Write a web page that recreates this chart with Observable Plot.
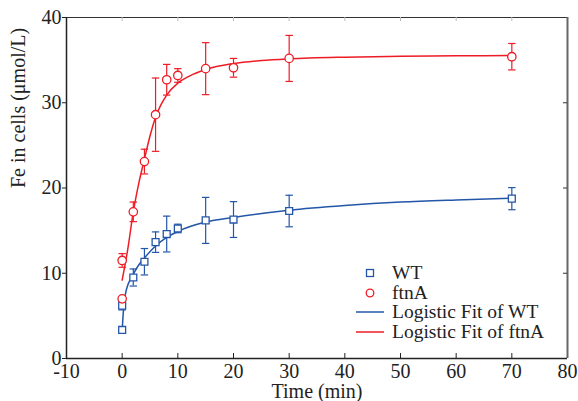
<!DOCTYPE html>
<html><head><meta charset="utf-8">
<script src="https://cdn.jsdelivr.net/npm/d3@7"></script>
<script src="https://cdn.jsdelivr.net/npm/@observablehq/plot@0.6"></script>
<style>
body{margin:0;background:#fff}
#wrap{position:relative;width:578px;height:401px}
#wrap svg text{font-family:"Liberation Serif","Times New Roman",Times,"DejaVu Serif",serif}
.legend{position:absolute;left:356px;top:263px;font-family:"Liberation Serif","Times New Roman",Times,"DejaVu Serif",serif;font-size:19.5px;color:#222}
.legend .row{display:flex;align-items:center;height:19.7px;white-space:nowrap}
.legend svg{width:28px;height:14px;margin-right:8px;flex:none}
</style></head>
<body><div id="wrap"></div>
<script>
// ---- data ----
const tWT   = [0, 0, 2, 4, 6, 8, 10, 15, 20, 30, 70];
const wtMean = [3.35, 6.2, 9.5, 11.35, 13.65, 14.6, 15.25, 16.2, 16.3, 17.3, 18.75];
const wtSD   = [0, 0.5, 1.0, 1.55, 1.2, 2.1, 0.5, 2.7, 2.1, 1.85, 1.3];

const tFtnA   = [0, 0, 2, 4, 6, 8, 10, 15, 20, 30, 70];
const ftnAMean = [7.0, 11.5, 17.2, 23.1, 28.6, 32.7, 33.2, 34.0, 34.1, 35.2, 35.4];
const ftnASD   = [0, 0.8, 1.15, 1.45, 4.3, 1.8, 0.8, 3.05, 1.1, 2.7, 1.55];

const fitWTt = [0, 0.3, 0.6, 1, 1.5, 2, 3, 4, 6, 8, 10, 15, 20, 30, 40, 50, 60, 70];
const fitWTv = [3.3, 6.2, 7.6, 8.6, 9.3, 9.9, 11.0, 11.8, 13.2, 14.2, 14.9, 16.0, 16.55, 17.4, 17.95, 18.35, 18.6, 18.8];

const fitFtnAt = [0, 1, 2, 3, 4, 5, 6, 7, 8, 10, 12, 15, 20, 25, 30, 40, 50, 60, 70];
const fitFtnAv = [9.2, 12.8, 17.2, 20.6, 23.4, 26.1, 28.3, 29.8, 30.9, 32.3, 33.1, 33.9, 34.6, 34.95, 35.15, 35.35, 35.45, 35.5, 35.55];

const xTicks = [-10, 0, 10, 20, 30, 40, 50, 60, 70, 80];
const yTicks = [0, 10, 20, 30, 40];
const seriesNames = ["WT", "ftnA", "Logistic Fit of WT", "Logistic Fit of ftnA"];
const xLabel = "Time (min)";
const yLabel = "Fe in cells (\u03bcmol/L)";

// ---- build tables ----
const BLUE = "#2356a8", RED = "#ee1c25";
const wt = tWT.map((t, i) => ({t, v: wtMean[i], lo: wtMean[i] - wtSD[i], hi: wtMean[i] + wtSD[i], sd: wtSD[i]}));
const ft = tFtnA.map((t, i) => ({t, v: ftnAMean[i], lo: ftnAMean[i] - ftnASD[i], hi: ftnAMean[i] + ftnASD[i], sd: ftnASD[i]}));
const fitWT = fitWTt.map((t, i) => ({t, v: fitWTv[i]}));
const fitFt = fitFtnAt.map((t, i) => ({t, v: fitFtnAv[i]}));

const cap = {draw(ctx, size) { const r = Math.sqrt(size / Math.PI); ctx.moveTo(-r, 0); ctx.lineTo(r, 0); }};
const W = 578, H = 401, mL = 66, mR = 11, mT = 17, mB = 43;
const fh = H - mT - mB, fw = W - mL - mR;

function errMarks(data, color) {
  const d = data.filter(r => r.sd > 0);
  return [
    Plot.ruleX(d, {x: "t", y1: "lo", y2: "hi", stroke: color, strokeWidth: 1.2}),
    Plot.dot(d, {x: "t", y: "hi", symbol: cap, r: 3.7, stroke: color, strokeWidth: 1.2}),
    Plot.dot(d, {x: "t", y: "lo", symbol: cap, r: 3.7, stroke: color, strokeWidth: 1.2})
  ];
}

const chart = Plot.plot({
  width: W, height: H,
  marginLeft: mL, marginRight: mR, marginTop: mT, marginBottom: mB,
  style: {fontFamily: "'Liberation Serif', 'Times New Roman', 'DejaVu Serif', serif", fontSize: "20px", color: "#222", background: "#fff"},
  x: {domain: [-10, 80], ticks: xTicks, label: null},
  y: {domain: [0, 40], ticks: yTicks, label: null},
  marks: [
    // spines
    Plot.ruleY([40], {stroke: "#333", strokeWidth: 1}),
    Plot.ruleX([80], {stroke: "#666", strokeWidth: 2}),
    Plot.tickX(xTicks.slice(1, -1), {x: d => d, insetBottom: fh - 4, stroke: "#bbb"}),
    Plot.tickY(yTicks.slice(1, -1), {y: d => d, insetLeft: fw - 4, stroke: "#333"}),
    Plot.tickX(xTicks.slice(1, -1), {x: d => d, insetTop: fh - 5, stroke: "#222"}),
    Plot.axisX({ticks: xTicks, tickSize: 0, tickPadding: 5, tickFormat: d => String(d), fontSize: 20}),
    Plot.axisY({ticks: yTicks, tickSize: 4, tickPadding: 1, stroke: "#222", fontSize: 20}),
    Plot.ruleY([0], {stroke: "#222", strokeWidth: 1.5}),
    Plot.ruleX([-10], {stroke: "#222", strokeWidth: 1.5}),
    Plot.text([yLabel], {frameAnchor: "left", rotate: -90, dx: -48, fontSize: 20, fill: "#222", lineAnchor: "middle"}),
    Plot.text([xLabel], {frameAnchor: "bottom", dy: 33, fontSize: 20, fill: "#222", lineAnchor: "middle"}),
    // fits
    Plot.line(fitWT, {x: "t", y: "v", stroke: BLUE, strokeWidth: 1.5, curve: "monotone-x"}),
    Plot.line(fitFt, {x: "t", y: "v", stroke: RED, strokeWidth: 1.5, curve: "monotone-x"}),
    // error bars + points
    ...errMarks(wt, BLUE),
    Plot.dot(wt, {x: "t", y: "v", symbol: "square", r: 3.9, stroke: BLUE, fill: "white", strokeWidth: 1.3}),
    ...errMarks(ft, RED),
    Plot.dot(ft, {x: "t", y: "v", symbol: "circle", r: 4.2, stroke: RED, fill: "white", strokeWidth: 1.3})
  ]
});
const wrap = document.getElementById("wrap");
wrap.appendChild(chart);

// legend
const legend = document.createElement("div");
legend.className = "legend";
const sw = [
  `<svg viewBox="0 0 28 14"><rect x="10.5" y="3.5" width="7" height="7" fill="white" stroke="${BLUE}" stroke-width="1.3"/></svg>`,
  `<svg viewBox="0 0 28 14"><circle cx="14" cy="7" r="3.8" fill="white" stroke="${RED}" stroke-width="1.3"/></svg>`,
  `<svg viewBox="0 0 28 14"><line x1="0" y1="7" x2="28" y2="7" stroke="${BLUE}" stroke-width="1.5"/></svg>`,
  `<svg viewBox="0 0 28 14"><line x1="0" y1="7" x2="28" y2="7" stroke="${RED}" stroke-width="1.5"/></svg>`
];
legend.innerHTML = seriesNames.map((n, i) => `<div class="row">${sw[i]}<span>${n}</span></div>`).join("");
wrap.appendChild(legend);
</script>
</body></html>
